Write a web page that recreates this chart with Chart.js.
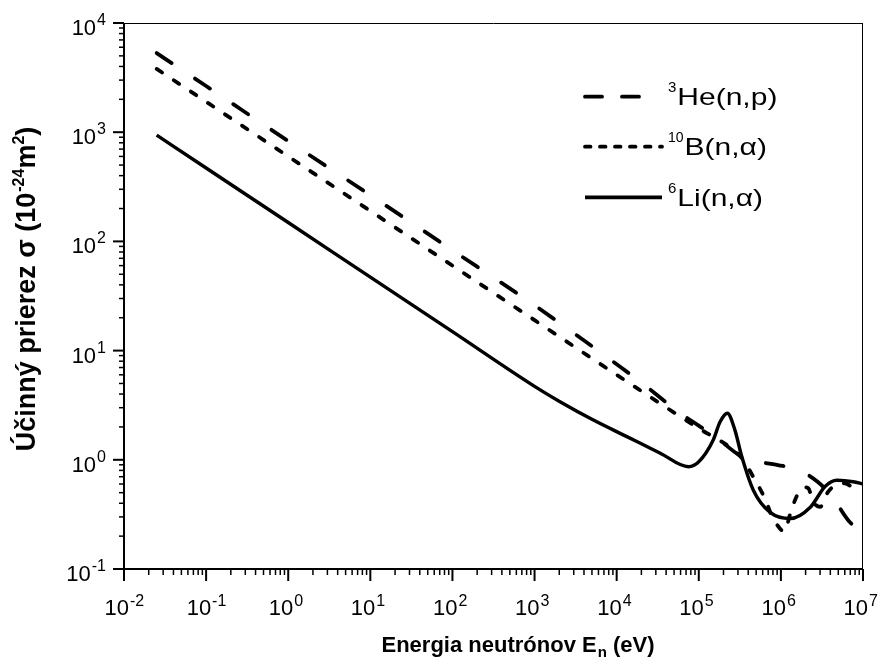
<!DOCTYPE html>
<html><head><meta charset="utf-8">
<script src="https://cdn.jsdelivr.net/npm/chart.js@4.4.0/dist/chart.umd.min.js"></script>
<style>html,body{margin:0;padding:0;background:#fff}canvas{display:block}</style>
</head><body>
<canvas id="c" width="883" height="671"></canvas>
<script>
// ---- data ----
const energyHe = [0.025, 0.1, 1, 10, 100, 1000, 3930, 1e4, 1.93e4, 5.65e4, 1.58e5, 3.47e5, 5.4e5, 9.2e5, 1.56e6, 2.8e6, 4.2e6, 6.6e6, 1e7];
const sigmaHe  = [5300, 2650, 830, 265, 83, 26, 12.5, 7.5, 5.2, 2.75, 1.63, 1.05, 0.96, 0.895, 0.82, 0.63, 0.46, 0.28, 0.21];

const energyB = [0.025, 0.1, 1, 10, 100, 1000, 1e4, 1e5, 2.4e5, 3.4e5, 4.6e5, 6.4e5, 7.7e5, 9.5e5, 1.1e6, 1.3e6, 1.55e6, 1.95e6, 2.15e6, 2.5e6, 3e6, 3.7e6, 4.5e6, 6e6, 7.6e6, 1e7];
const sigmaB  = [3800, 1900, 600, 190, 60, 19, 6.0, 1.94, 1.3, 1.02, 0.70, 0.44, 0.31, 0.24, 0.22, 0.32, 0.46, 0.56, 0.55, 0.41, 0.37, 0.5, 0.58, 0.61, 0.56, 0.55];

const energyLi = [0.025, 0.1, 1, 10, 100, 1000, 2040, 5200, 1.33e4, 3.4e4, 7.5e4, 1e5, 1.5e5, 1.82e5, 2.23e5, 2.75e5, 3.34e5, 4.6e5, 7.4e5, 1.3e6, 2.3e6, 3.45e6, 4.8e6, 7.6e6, 1e7];
const sigmaLi  = [940, 470, 149, 47, 14.9, 4.7, 3.4, 2.31, 1.63, 1.15, 0.865, 0.96, 1.52, 2.23, 2.67, 1.88, 1.07, 0.53, 0.33, 0.29, 0.37, 0.57, 0.65, 0.63, 0.6];

const xDecades = [-2, -1, 0, 1, 2, 3, 4, 5, 6, 7];
const yDecades = [-1, 0, 1, 2, 3, 4];
const minorMultipliers = [2, 3, 4, 5, 6, 7, 8, 9];

const seriesNames = [
  {sup: '3', main: 'He(n,p)'},
  {sup: '10', main: 'B(n,\u03B1)'},
  {sup: '6', main: 'Li(n,\u03B1)'}
];
const xTitle = ['Energia neutrónov E', 'n', ' (eV)'];
const yTitle = ['Účinný prierez σ (10', '-24', 'm', '2', ')'];

// ---- helpers ----
const FF = '"Liberation Sans", Arial, sans-serif';
function toPts(xs, ys) { return xs.map((x, i) => ({x: x, y: ys[i]})); }

function drawParts(ctx, parts, x, y, align) {
  const widths = parts.map(p => { ctx.font = p.font; return ctx.measureText(p.text).width * (p.sx || 1) + (p.gap || 0); });
  const total = widths.reduce((a, b) => a + b, 0);
  let cx = align === 'center' ? x - total / 2 : (align === 'right' ? x - total : x);
  parts.forEach((p, i) => {
    ctx.save();
    ctx.font = p.font;
    ctx.translate(cx + (p.gap || 0), y + (p.dy || 0));
    ctx.scale(p.sx || 1, 1);
    ctx.textAlign = 'left';
    ctx.textBaseline = 'alphabetic';
    ctx.fillStyle = '#000';
    ctx.fillText(p.text, 0, 0);
    ctx.restore();
    cx += widths[i];
  });
  return total;
}

const decor = {
  id: 'decor',
  afterDraw(chart) {
    const ctx = chart.ctx;
    const a = chart.chartArea;
    const xs = chart.scales.x, ys = chart.scales.y;
    ctx.save();
    ctx.strokeStyle = '#000';
    ctx.lineCap = 'butt';
    // frame
    ctx.lineWidth = 1;
    ctx.beginPath();
    ctx.moveTo(a.left, a.top + 0.5); ctx.lineTo(a.right, a.top + 0.5);
    ctx.moveTo(a.right - 0.5, a.top); ctx.lineTo(a.right - 0.5, a.bottom);
    ctx.stroke();
    ctx.lineWidth = 2;
    ctx.beginPath();
    ctx.moveTo(a.left, a.top); ctx.lineTo(a.left, a.bottom + 1);
    ctx.moveTo(a.left - 1, a.bottom); ctx.lineTo(a.right, a.bottom);
    ctx.stroke();

    // y ticks
    yDecades.forEach((d, i) => {
      const y = ys.getPixelForValue(Math.pow(10, d));
      ctx.lineWidth = 2;
      ctx.beginPath(); ctx.moveTo(a.left, y); ctx.lineTo(a.left - 11, y); ctx.stroke();
      if (i < yDecades.length - 1) {
        minorMultipliers.forEach(m => {
          const ym = ys.getPixelForValue(m * Math.pow(10, d));
          ctx.lineWidth = 1.5;
          ctx.beginPath(); ctx.moveTo(a.left, ym); ctx.lineTo(a.left - 5, ym); ctx.stroke();
        });
      }
      drawParts(ctx, [
        {text: '10', font: '22px ' + FF},
        {text: String(d), font: '16px ' + FF, dy: -10, gap: 1}
      ], a.left - 18, y + 12, 'right');
    });

    // x ticks
    xDecades.forEach((d, i) => {
      const x = xs.getPixelForValue(Math.pow(10, d));
      ctx.lineWidth = 2;
      ctx.beginPath(); ctx.moveTo(x, a.bottom); ctx.lineTo(x, a.bottom + 12); ctx.stroke();
      if (i < xDecades.length - 1) {
        minorMultipliers.forEach(m => {
          const xm = xs.getPixelForValue(m * Math.pow(10, d));
          ctx.lineWidth = 1.5;
          ctx.beginPath(); ctx.moveTo(xm, a.bottom); ctx.lineTo(xm, a.bottom + 6); ctx.stroke();
        });
      }
      ctx.font = '22px ' + FF;
      const w10 = ctx.measureText('10').width;
      drawParts(ctx, [
        {text: '10', font: '22px ' + FF},
        {text: String(d), font: '16px ' + FF, dy: -9, gap: 1}
      ], x + 5 - w10, a.bottom + 46, 'left');
    });

    // x title
    drawParts(ctx, [
      {text: xTitle[0], font: 'bold 22px ' + FF},
      {text: xTitle[1], font: 'bold 15px ' + FF, dy: 5, gap: 1},
      {text: xTitle[2], font: 'bold 22px ' + FF}
    ], 518, 652, 'center');

    // y title (rotated)
    ctx.save();
    ctx.translate(35, 289);
    ctx.rotate(-Math.PI / 2);
    drawParts(ctx, [
      {text: yTitle[0], font: 'bold 27px ' + FF},
      {text: yTitle[1], font: 'bold 16px ' + FF, dy: -11, gap: 1},
      {text: yTitle[2], font: 'bold 27px ' + FF},
      {text: yTitle[3], font: 'bold 16px ' + FF, dy: -11},
      {text: yTitle[4], font: 'bold 27px ' + FF}
    ], 0, 0, 'center');
    ctx.restore();

    // legend
    const ly = [96.7, 146.7, 197.3];
    const dashes = [[17, 20], [5.5, 9.5], []];
    ly.forEach((yy, i) => {
      ctx.lineWidth = 3.8;
      ctx.setLineDash(dashes[i]);
      ctx.lineCap = dashes[i].length ? 'round' : 'butt';
      ctx.beginPath(); ctx.moveTo(585, yy); ctx.lineTo(i === 0 ? 641 : 662, yy); ctx.stroke();
      ctx.setLineDash([]);
      const supFont = (i === 1 ? '14px ' : '15px ') + FF;
      drawParts(ctx, [
        {text: seriesNames[i].sup, font: supFont, dy: -13},
        {text: seriesNames[i].main, font: '24px ' + FF, sx: 1.25, gap: 1}
      ], 668, yy + 8.5, 'left');
    });
    ctx.restore();
  }
};

new Chart(document.getElementById('c'), {
  type: 'scatter',
  data: {
    datasets: [
      {label: '3He(n,p)', data: toPts(energyHe, sigmaHe), showLine: true, borderColor: '#000', borderWidth: 3.8,
       borderDash: [18, 28], borderCapStyle: 'round', pointRadius: 0, cubicInterpolationMode: 'monotone'},
      {label: '10B(n,a)', data: toPts(energyB, sigmaB), showLine: true, borderColor: '#000', borderWidth: 3.8,
       borderDash: [6.5, 14], borderCapStyle: 'round', pointRadius: 0, cubicInterpolationMode: 'monotone'},
      {label: '6Li(n,a)', data: toPts(energyLi, sigmaLi), showLine: true, borderColor: '#000', borderWidth: 3.4,
       pointRadius: 0, cubicInterpolationMode: 'monotone'}
    ]
  },
  options: {
    responsive: false,
    animation: false,
    layout: {padding: {left: 124, right: 20, top: 23, bottom: 102}},
    scales: {
      x: {type: 'logarithmic', min: 0.01, max: 1e7, display: false},
      y: {type: 'logarithmic', min: 0.1, max: 1e4, display: false}
    },
    plugins: {legend: {display: false}, tooltip: {enabled: false}},
    elements: {point: {radius: 0}}
  },
  plugins: [decor]
});
</script>
</body></html>
